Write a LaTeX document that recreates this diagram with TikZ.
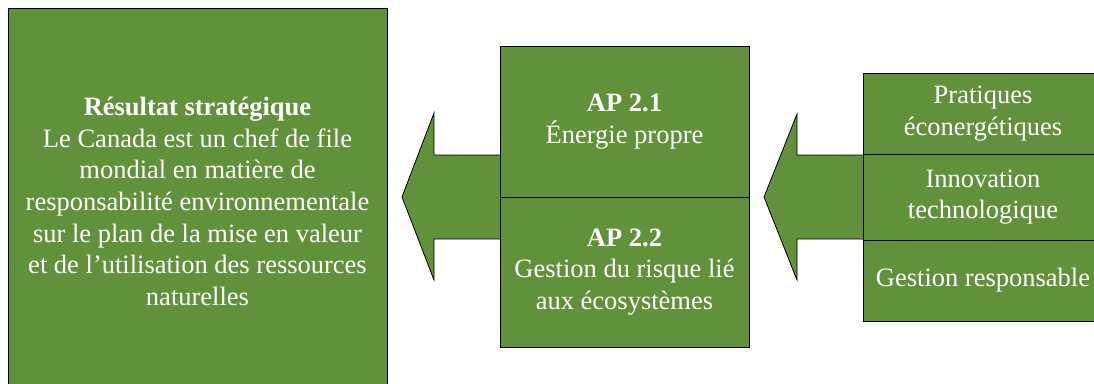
\documentclass[tikz,border=0pt]{standalone}
\usepackage{fontspec}
\setmainfont{Liberation Serif}
\usetikzlibrary{positioning}
\definecolor{leafgreen}{RGB}{98,145,60}
\begin{document}
\begin{tikzpicture}[x=1pt,y=-1pt,line join=miter,
  box/.style={draw=black,line width=.8pt,fill=leafgreen,text=white,align=center,
    inner sep=0pt,outer sep=0pt,font=\fontsize{26.5}{31.7}\selectfont},
  blockarrow/.style={draw=black,line width=.8pt,fill=leafgreen}]
  \useasboundingbox (0,0) rectangle (1094,383);
  \clip (0,0) rectangle (1094,383);
  % block arrows
  \draw[blockarrow] (500,155)--(434,155)--(434,113)--(402,197)--(434,280)--(434,239)--(500,239);
  \draw[blockarrow] (863,155)--(797,155)--(797,114)--(764,197)--(797,280)--(797,239)--(863,239);
  % outcome
  \node[box,minimum width=379pt,minimum height=387pt] (result) at (197.5,201.5)
    {\textbf{Résultat stratégique}\\Le Canada est un chef de file\\mondial en matière de\\
     responsabilité environnementale\\sur le plan de la mise en valeur\\
     et de l’utilisation des ressources\\naturelles};
  % program activities
  \node[box,minimum width=249pt,minimum height=151pt] (ap21) at (624.5,121.5)
    {\textbf{AP 2.1}\\Énergie propre};
  \node[box,minimum width=249pt,minimum height=150pt,below=0pt of ap21] (ap22)
    {\textbf{AP 2.2}\\Gestion du risque lié\\aux écosystèmes};
  % sub-activities
  \node[box,minimum width=240pt,minimum height=81pt] (prac) at (983,113.5)
    {Pratiques\\éconergétiques};
  \node[box,minimum width=240pt,minimum height=86pt,below=0pt of prac] (innov)
    {Innovation\\technologique};
  \node[box,minimum width=240pt,minimum height=81pt,below=0pt of innov] (gest)
    {Gestion responsable};
\end{tikzpicture}
\end{document}
